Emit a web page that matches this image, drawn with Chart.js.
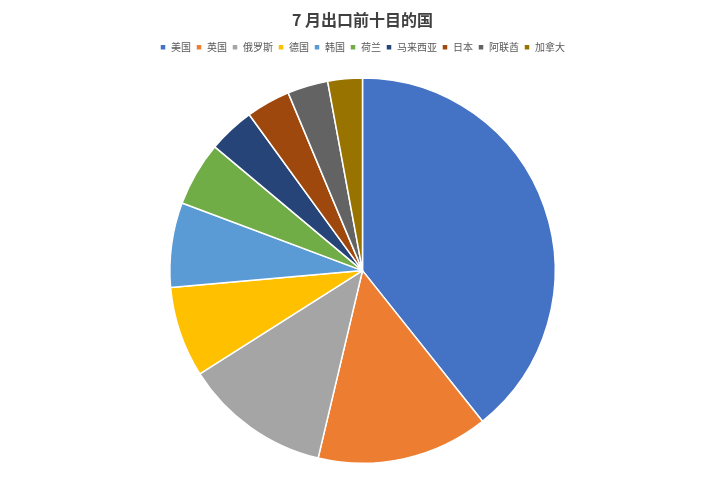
<!DOCTYPE html>
<html>
<head>
<meta charset="utf-8">
<script src="https://cdn.jsdelivr.net/npm/chart.js@4"></script>
<style>
  html, body { margin: 0; padding: 0; background: #fff; }
  #wrap { width: 725px; height: 480px; }
</style>
</head>
<body>
<div id="wrap"><canvas id="chart"></canvas></div>
<script>
// 7月出口前十目的国 (share, %)
const countries = ["美国", "英国", "俄罗斯", "德国", "韩国", "荷兰", "马来西亚", "日本", "阿联酋", "加拿大"];
const shares = [39.3, 14.4, 12.3, 7.6, 7.1, 5.4, 3.9, 3.7, 3.4, 2.9];
const colors = ["#4472C4", "#ED7D31", "#A5A5A5", "#FFC000", "#5B9BD5", "#70AD47", "#264478", "#9E480E", "#636363", "#997300"];

const font_family = "'Noto Sans CJK SC', 'Noto Sans', sans-serif";

// leave some room under the legend, like the original
const legendGap = {
  id: "legendGap",
  beforeInit(chart) {
    const fit = chart.legend.fit;
    chart.legend.fit = function () {
      fit.bind(chart.legend)();
      this.height += 15;
    };
  },
};

const config = {
  type: "pie",
  data: {
    labels: countries,
    datasets: [
      {
        data: shares,
        backgroundColor: colors,
        borderColor: "#ffffff",
        borderWidth: 1.5,
      },
    ],
  },
  options: {
    responsive: true,
    maintainAspectRatio: false,
    animation: false,
    layout: { padding: { top: 0, bottom: 16 } },
    plugins: {
      title: {
        display: true,
        text: "7 月出口前十目的国",
        color: "#404040",
        font: { family: font_family, size: 16, weight: "bold" },
        padding: { top: 10, bottom: 8 },
      },
      legend: {
        position: "top",
        labels: {
          color: "#595959",
          font: { family: font_family, size: 10 },
          boxWidth: 6,
          boxHeight: 6,
          padding: 5,
        },
      },
      tooltip: { enabled: false },
    },
  },
  plugins: [legendGap],
};

new Chart(document.getElementById("chart"), config);
</script>
</body>
</html>
